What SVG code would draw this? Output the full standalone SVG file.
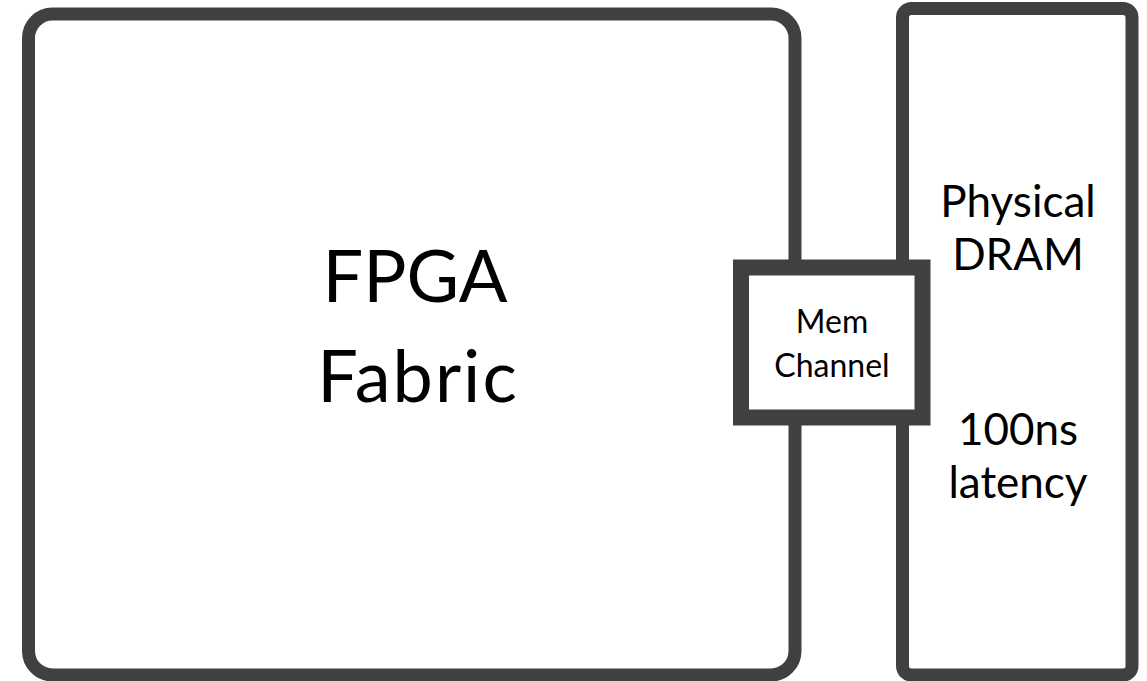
<svg xmlns="http://www.w3.org/2000/svg" width="1147" height="681" viewBox="0 0 1147 681">
  <style>
    .box { fill: #ffffff; stroke: #404040; stroke-width: 13; }
    .chan { fill: #ffffff; stroke: #404040; stroke-width: 16; stroke-linejoin: miter; }
    .lbl { font-family: Lato, "Open Sans", "Liberation Sans", sans-serif; fill: #000000; text-anchor: middle; }
  </style>
  <rect width="1147" height="681" fill="#ffffff"/>

  <!-- FPGA fabric block -->
  <g id="fpga">
    <rect class="box" x="28.5" y="14" width="766.5" height="661" rx="24" ry="24"/>
    <text class="lbl" x="415" y="302" font-size="72">FPGA</text>
    <text class="lbl" x="418" y="402" font-size="72" letter-spacing="2">Fabric</text>
  </g>

  <!-- DRAM block -->
  <g id="dram">
    <rect class="box" x="902.5" y="8.5" width="229.5" height="666.5" rx="9" ry="9"/>
    <text class="lbl" x="1018" y="217" font-size="44">Physical</text>
    <text class="lbl" x="1018" y="270" font-size="44">DRAM</text>
    <text class="lbl" x="1018" y="445" font-size="44">100ns</text>
    <text class="lbl" x="1018" y="498" font-size="44">latency</text>
  </g>

  <!-- memory channel bridging the two blocks -->
  <g id="mem-channel">
    <rect class="chan" x="741" y="267.5" width="181.5" height="150"/>
    <text class="lbl" x="832" y="333" font-size="32">Mem</text>
    <text class="lbl" x="832" y="377" font-size="32">Channel</text>
  </g>

  <g id="connectors"></g>
</svg>
